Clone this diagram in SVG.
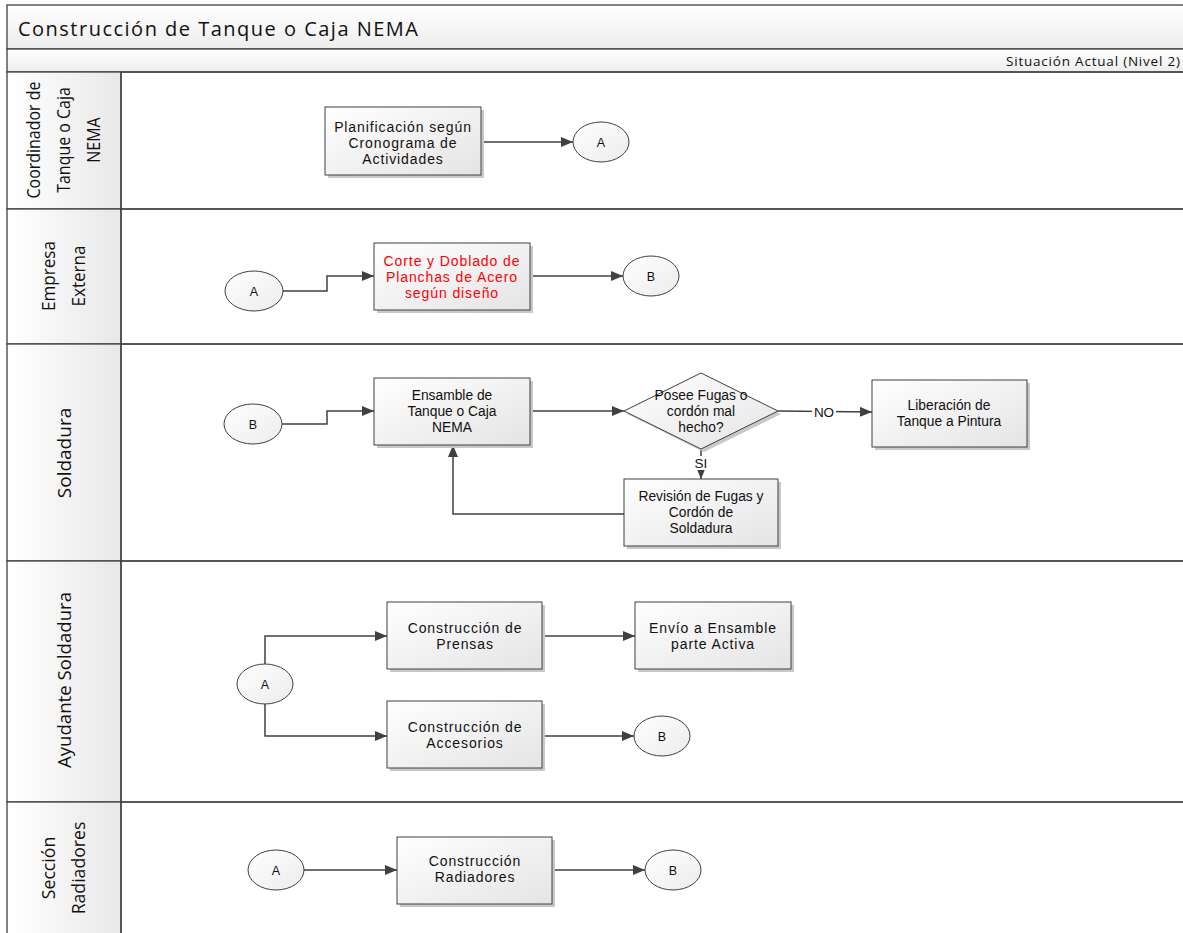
<svg xmlns="http://www.w3.org/2000/svg" width="1183" height="933" viewBox="0 0 1183 933">
<style>
.frame{fill:none;stroke:#404040;stroke-width:1.3}
.box{fill:url(#gbox);stroke:#404040;stroke-width:1}
.shadow{fill:#c8c8c8}
.circ{fill:url(#gcirc);stroke:#404040;stroke-width:1}
.t{font-family:"Liberation Sans",Arial,sans-serif;font-size:14px;letter-spacing:0.9px;fill:#111;text-anchor:middle}
.tn{font-family:"Liberation Sans",Arial,sans-serif;font-size:13.8px;fill:#111;text-anchor:middle}
.cl{font-family:"Liberation Sans",Arial,sans-serif;font-size:12.5px;fill:#111;text-anchor:middle}
.lane{font-family:"Open Sans","DejaVu Sans",sans-serif;font-size:19px;fill:#111;text-anchor:middle}
.c{fill:none;stroke:#404040;stroke-width:1.5;marker-end:url(#arr)}
.lbl{font-family:"Liberation Sans",Arial,sans-serif;font-size:13.5px;fill:#111;text-anchor:middle}
</style>
<defs>
<linearGradient id="gbox" x1="0" y1="0" x2="1" y2="1"><stop offset="0" stop-color="#ffffff"/><stop offset="1" stop-color="#e4e4e4"/></linearGradient>
<linearGradient id="gcirc" x1="0" y1="0" x2="1" y2="1"><stop offset="0" stop-color="#ffffff"/><stop offset="1" stop-color="#ececec"/></linearGradient>
<linearGradient id="ghead" x1="0" y1="0" x2="0" y2="1"><stop offset="0" stop-color="#ffffff"/><stop offset="1" stop-color="#ededed"/></linearGradient>
<linearGradient id="glane" x1="0" y1="0" x2="1" y2="0"><stop offset="0" stop-color="#ffffff"/><stop offset="1" stop-color="#e8e8e8"/></linearGradient>
<marker id="arr" viewBox="0 0 12 10" refX="12" refY="5" markerWidth="12" markerHeight="10" markerUnits="userSpaceOnUse" orient="auto"><path d="M0,0 L12,5 L0,10 z" fill="#404040"/></marker>
</defs>
<rect x="0" y="0" width="1183" height="933" fill="#fff"/>
<g id="header">
<rect x="7" y="5" width="1180" height="44" fill="url(#ghead)" stroke="#404040" stroke-width="1.3"/>
<text x="18" y="36" font-family="'Open Sans','DejaVu Sans',sans-serif" font-size="20" fill="#111" textLength="400" lengthAdjust="spacing">Construcción de Tanque o Caja NEMA</text>
<rect x="7" y="49" width="1180" height="23" fill="url(#ghead)" stroke="#404040" stroke-width="1.3"/>
<text x="1180" y="66" font-family="'Open Sans','DejaVu Sans',sans-serif" font-size="13.5" fill="#111" text-anchor="end" textLength="174" lengthAdjust="spacing">Situación Actual (Nivel 2)</text>
</g>
<g id="lanes">
<rect x="7" y="72" width="114" height="137" fill="url(#glane)" stroke="#404040" stroke-width="1.3"/>
<rect x="121" y="72" width="1066" height="137" class="frame"/>
<rect x="7" y="209" width="114" height="135" fill="url(#glane)" stroke="#404040" stroke-width="1.3"/>
<rect x="121" y="209" width="1066" height="135" class="frame"/>
<rect x="7" y="344" width="114" height="217" fill="url(#glane)" stroke="#404040" stroke-width="1.3"/>
<rect x="121" y="344" width="1066" height="217" class="frame"/>
<rect x="7" y="561" width="114" height="241" fill="url(#glane)" stroke="#404040" stroke-width="1.3"/>
<rect x="121" y="561" width="1066" height="241" class="frame"/>
<rect x="7" y="802" width="114" height="140" fill="url(#glane)" stroke="#404040" stroke-width="1.3"/>
<rect x="121" y="802" width="1066" height="140" class="frame"/>
<text class="lane" transform="translate(64,140) rotate(-90) scale(0.84,1)"><tspan x="0" y="-24">Coordinador de</tspan><tspan x="0" y="6">Tanque o Caja</tspan><tspan x="0" y="36">NEMA</tspan></text>
<text class="lane" transform="translate(64,276) rotate(-90) scale(0.9,1)"><tspan x="0" y="-9">Empresa</tspan><tspan x="0" y="21">Externa</tspan></text>
<text class="lane" transform="translate(64,453) rotate(-90)"><tspan x="0" y="7">Soldadura</tspan></text>
<text class="lane" transform="translate(64,680) rotate(-90) scale(0.98,1)"><tspan x="0" y="7">Ayudante Soldadura</tspan></text>
<text class="lane" transform="translate(64,868) rotate(-90) scale(0.93,1)"><tspan x="0" y="-9">Sección</tspan><tspan x="0" y="21">Radiadores</tspan></text>
</g>
<g id="connectors">
<path class="c" d="M481,142 H573"/>
<path class="c" d="M283,291 H327 V276 H374"/>
<path class="c" d="M530,276 H623"/>
<path class="c" d="M282,424 H327 V411 H374"/>
<path class="c" d="M530,411 H624"/>
<path class="c" d="M778,411 L872,412"/>
<path class="c" d="M701,449 V479"/>
<path class="c" d="M624,514 H453 V445"/>
<path class="c" d="M265,664 V636 H387"/>
<path class="c" d="M265,704 V736 H387"/>
<path class="c" d="M542,636 H635"/>
<path class="c" d="M542,736 H634"/>
<path class="c" d="M304,870 H397"/>
<path class="c" d="M552,870 H645"/>
<rect x="812" y="404" width="24" height="15" fill="#fff"/>
<text class="lbl" x="824" y="416.5">NO</text>
<rect x="693" y="456" width="16" height="14" fill="#fff"/>
<text class="lbl" x="701" y="468">SI</text>
</g>
<g id="n-planificacion">
<rect class="shadow" x="328" y="110" width="156" height="68"/>
<rect class="box" x="325" y="107" width="156" height="68"/>
<text class="t"><tspan x="403" y="132">Planificación según</tspan><tspan x="403" y="148">Cronograma de</tspan><tspan x="403" y="164">Actividades</tspan></text>
</g>
<g id="c-a1"><ellipse class="circ" cx="601" cy="142" rx="28" ry="20"/><text class="cl" x="601" y="146.5">A</text></g>
<g id="c-a2"><ellipse class="circ" cx="254" cy="291" rx="29" ry="20"/><text class="cl" x="254" y="295.5">A</text></g>
<g id="n-corte">
<rect class="shadow" x="377" y="246" width="156" height="67"/>
<rect class="box" x="374" y="243" width="156" height="67"/>
<text class="t" style="fill:#ff0000"><tspan x="452" y="266">Corte y Doblado de</tspan><tspan x="452" y="282">Planchas de Acero</tspan><tspan x="452" y="298">según diseño</tspan></text>
</g>
<g id="c-b1"><ellipse class="circ" cx="651" cy="276" rx="28" ry="20"/><text class="cl" x="651" y="280.5">B</text></g>
<g id="c-b2"><ellipse class="circ" cx="253" cy="424" rx="29" ry="20"/><text class="cl" x="253" y="428.5">B</text></g>
<g id="n-ensamble">
<rect class="shadow" x="377" y="381" width="156" height="67"/>
<rect class="box" x="374" y="378" width="156" height="67"/>
<text class="tn"><tspan x="452" y="400">Ensamble de</tspan><tspan x="452" y="416">Tanque o Caja</tspan><tspan x="452" y="432">NEMA</tspan></text>
</g>
<g id="n-decision">
<polygon points="704,376 781,414 704,452 627,414" fill="#c8c8c8"/>
<polygon class="box" points="701,373 778,411 701,449 624,411"/>
<text class="tn"><tspan x="701" y="400">Posee Fugas o</tspan><tspan x="701" y="416">cordón mal</tspan><tspan x="701" y="432">hecho?</tspan></text>
</g>
<g id="n-liberacion">
<rect class="shadow" x="875" y="383" width="155" height="67"/>
<rect class="box" x="872" y="380" width="155" height="67"/>
<text class="tn"><tspan x="949" y="410">Liberación de</tspan><tspan x="949" y="426">Tanque a Pintura</tspan></text>
</g>
<g id="n-revision">
<rect class="shadow" x="627" y="482" width="154" height="67"/>
<rect class="box" x="624" y="479" width="154" height="67"/>
<text class="tn"><tspan x="701" y="501">Revisión de Fugas y</tspan><tspan x="701" y="517">Cordón de</tspan><tspan x="701" y="533">Soldadura</tspan></text>
</g>
<g id="c-a3"><ellipse class="circ" cx="265" cy="684" rx="28" ry="20"/><text class="cl" x="265" y="688.5">A</text></g>
<g id="n-prensas">
<rect class="shadow" x="390" y="605" width="155" height="67"/>
<rect class="box" x="387" y="602" width="155" height="67"/>
<text class="t"><tspan x="465" y="633">Construcción de</tspan><tspan x="465" y="649">Prensas</tspan></text>
</g>
<g id="n-envio">
<rect class="shadow" x="638" y="605" width="156" height="67"/>
<rect class="box" x="635" y="602" width="156" height="67"/>
<text class="t"><tspan x="713" y="633">Envío a Ensamble</tspan><tspan x="713" y="649">parte Activa</tspan></text>
</g>
<g id="n-accesorios">
<rect class="shadow" x="390" y="704" width="155" height="67"/>
<rect class="box" x="387" y="701" width="155" height="67"/>
<text class="t"><tspan x="465" y="732">Construcción de</tspan><tspan x="465" y="748">Accesorios</tspan></text>
</g>
<g id="c-b3"><ellipse class="circ" cx="662" cy="736" rx="28" ry="20"/><text class="cl" x="662" y="740.5">B</text></g>
<g id="c-a4"><ellipse class="circ" cx="276" cy="870" rx="28" ry="20"/><text class="cl" x="276" y="874.5">A</text></g>
<g id="n-radiadores">
<rect class="shadow" x="400" y="840" width="155" height="67"/>
<rect class="box" x="397" y="837" width="155" height="67"/>
<text class="t"><tspan x="475" y="866">Construcción</tspan><tspan x="475" y="882">Radiadores</tspan></text>
</g>
<g id="c-b4"><ellipse class="circ" cx="673" cy="870" rx="28" ry="20"/><text class="cl" x="673" y="874.5">B</text></g>
</svg>
